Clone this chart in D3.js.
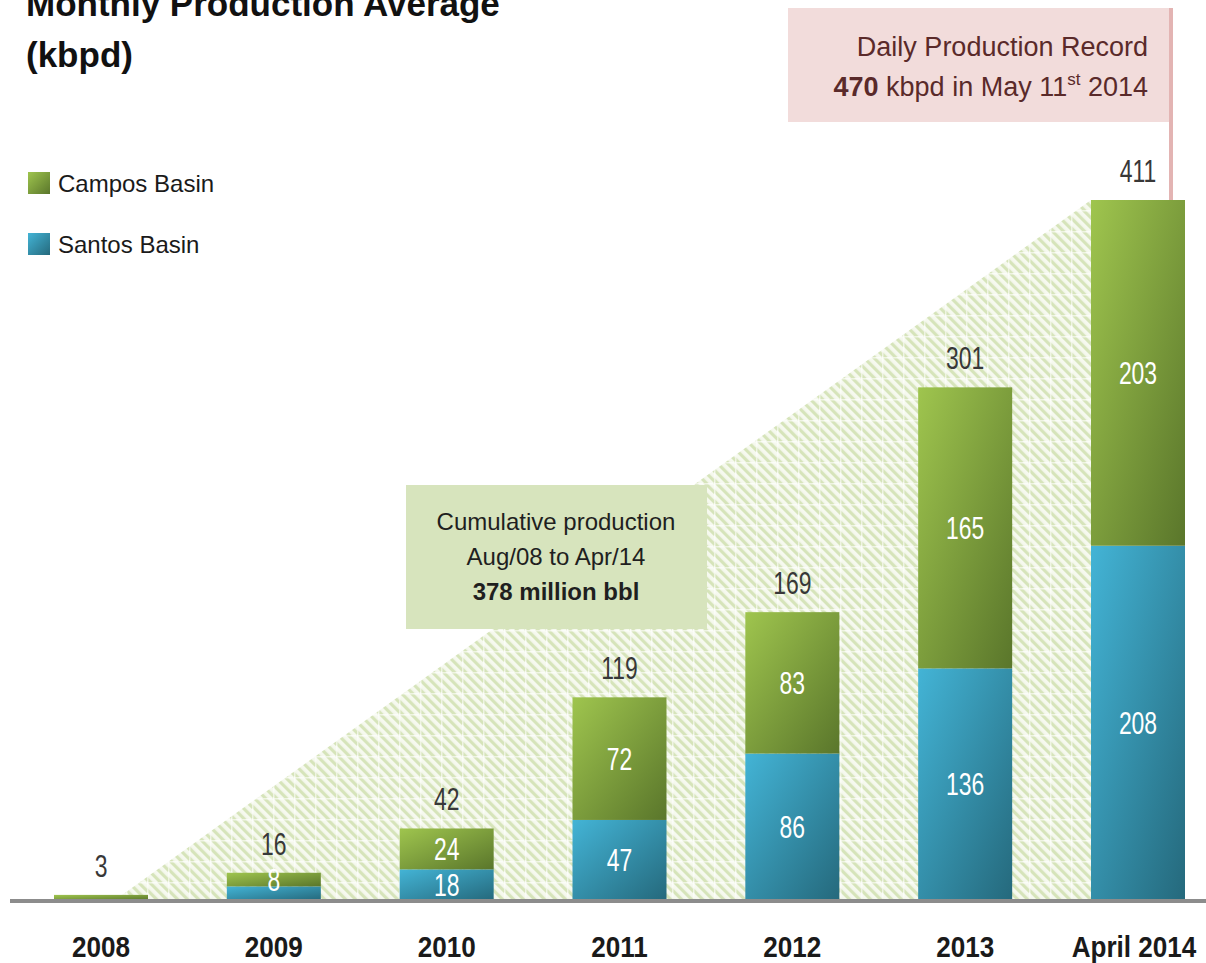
<!DOCTYPE html>
<html>
<head>
<title>Monthly Production Average</title>
<script src="https://d3js.org/d3.v7.min.js"></script>
<style type="text/css">
	body { margin: 0; background: white; }
	text { font-family: "Liberation Sans", Arial, sans-serif; }
	.title { font-weight: bold; font-size: 35px; fill: #111; }
	.legend { font-size: 24px; fill: #1a1a1a; }
	.year { font-weight: bold; font-size: 29px; fill: #1a1a1a; }
	.num { font-size: 31px; }
	.boxtext { font-size: 24px; fill: #1f1f1f; }
	.recordtext { font-size: 27px; fill: #5a2a2a; }
</style>
</head>
<body>
<svg id="chart" width="1206" height="963"></svg>
<script>
// data
var years = ["2008", "2009", "2010", "2011", "2012", "2013", "April 2014"];
var santos = [0, 8, 18, 47, 86, 136, 208];
var campos = [3, 8, 24, 72, 83, 165, 203];
var totals = [3, 16, 42, 119, 169, 301, 411];
// labels that are not printed inside the bar (too small)
var hiddenSantos = ["2008", "2009"];
var hiddenCampos = ["2008"];
var series = ["Campos Basin", "Santos Basin"];

var svg = d3.select("#chart");
var baseY = 900;

var x = d3.scalePoint().domain(years).range([101, 1138]);
var y = d3.scaleLinear().domain([0, 411]).range([baseY, 200]);
var barW = 94;

var defs = svg.append("defs");

function gradient(id, c0, c1) {
	var g = defs.append("linearGradient").attr("id", id)
		.attr("x1", 0).attr("y1", 0).attr("x2", 1).attr("y2", 1);
	g.append("stop").attr("offset", "0%").attr("stop-color", c0);
	g.append("stop").attr("offset", "100%").attr("stop-color", c1);
}
gradient("gCampos", "#9fc54e", "#5a762b");
gradient("gSantos", "#43b4d6", "#25697c");

// hatched background pattern
var pat = defs.append("pattern").attr("id", "hatch")
	.attr("patternUnits", "userSpaceOnUse")
	.attr("width", 7).attr("height", 7)
	.attr("patternTransform", "rotate(-45)");
pat.append("rect").attr("width", 7).attr("height", 7).attr("fill", "#f6f9ef");
pat.append("rect").attr("width", 3.2).attr("height", 7).attr("fill", "#d6e4ba");

var grid = defs.append("pattern").attr("id", "grid")
	.attr("patternUnits", "userSpaceOnUse")
	.attr("width", 21).attr("height", 21);
grid.append("rect").attr("width", 21).attr("height", 21).attr("fill", "url(#hatch)");
grid.append("rect").attr("width", 21).attr("height", 1.5).attr("fill", "#ffffff").attr("opacity", 0.6);
grid.append("rect").attr("width", 1.5).attr("height", 21).attr("fill", "#ffffff").attr("opacity", 0.6);

// title (top line is cut by the frame, as in the source)
svg.append("text").attr("class", "title").attr("x", 26).attr("y", 16).text("Monthly Production Average");
svg.append("text").attr("class", "title").attr("x", 26).attr("y", 67).text("(kbpd)");

// triangle behind bars
var last = years[years.length - 1];
var tri = [
	[x(years[0]) + 14, baseY],
	[x(last) - barW / 2, y(totals[totals.length - 1])],
	[x(last) - barW / 2, baseY]
];
svg.append("path")
	.attr("d", d3.line()(tri) + "Z")
	.attr("fill", "url(#grid)");

// daily record box + connector
svg.append("rect").attr("x", 788).attr("y", 8).attr("width", 383).attr("height", 114).attr("fill", "#f2dcdb");
svg.append("line")
	.attr("x1", 1171).attr("x2", 1171)
	.attr("y1", 8).attr("y2", y(totals[totals.length - 1]) + 2)
	.attr("stroke", "#e3b4b3").attr("stroke-width", 4);
svg.append("text").attr("class", "recordtext").attr("x", 1148).attr("y", 56)
	.attr("text-anchor", "end").text("Daily Production Record");
var rec = svg.append("text").attr("class", "recordtext").attr("x", 1148).attr("y", 96)
	.attr("text-anchor", "end");
rec.append("tspan").attr("font-weight", "bold").text("470");
rec.append("tspan").text(" kbpd in May 11");
rec.append("tspan").attr("font-size", "17px").attr("dy", -11).text("st");
rec.append("tspan").attr("dy", 11).text(" 2014");

// cumulative production box
svg.append("rect").attr("x", 406).attr("y", 485).attr("width", 301).attr("height", 144).attr("fill", "#d7e4bd");
var boxLines = ["Cumulative production", "Aug/08 to Apr/14", "378 million bbl"];
svg.selectAll(".boxtext").data(boxLines).enter().append("text")
	.attr("class", "boxtext")
	.attr("x", 556)
	.attr("y", function(d, i) { return 530 + i * 35; })
	.attr("text-anchor", "middle")
	.attr("font-weight", function(d, i) { return i == 2 ? "bold" : null; })
	.text(function(d) { return d; });

// legend
var leg = svg.selectAll(".leg").data(series).enter().append("g")
	.attr("transform", function(d, i) { return "translate(28," + (172 + i * 61) + ")"; });
leg.append("rect").attr("width", 22).attr("height", 22)
	.attr("fill", function(d, i) { return i == 0 ? "url(#gCampos)" : "url(#gSantos)"; });
leg.append("text").attr("class", "legend").attr("x", 30).attr("y", 20).text(function(d) { return d; });

// bars
var rows = years.map(function(d, i) {
	return { year: d, santos: santos[i], campos: campos[i], total: totals[i] };
});

var bars = svg.selectAll(".bar").data(rows).enter().append("g").attr("class", "bar");

bars.append("rect")
	.attr("x", function(d) { return x(d.year) - barW / 2; })
	.attr("y", function(d) { return y(d.santos); })
	.attr("width", barW)
	.attr("height", function(d) { return baseY - y(d.santos); })
	.attr("fill", "url(#gSantos)");

bars.append("rect")
	.attr("x", function(d) { return x(d.year) - barW / 2; })
	.attr("y", function(d) { return y(d.santos + d.campos); })
	.attr("width", barW)
	.attr("height", function(d) { return y(d.santos) - y(d.santos + d.campos); })
	.attr("fill", "url(#gCampos)");

// baseline
svg.append("line").attr("x1", 10).attr("x2", 1206).attr("y1", baseY + 1).attr("y2", baseY + 1)
	.attr("stroke", "#8c8c8c").attr("stroke-width", 4);

// condensed number label
function num(sel, px, py, txt, color) {
	sel.append("text").attr("class", "num")
		.attr("transform", "translate(" + px + "," + py + ") scale(0.74,1)")
		.attr("text-anchor", "middle")
		.attr("fill", color)
		.text(txt);
}

rows.forEach(function(d) {
	var cx = x(d.year);
	num(svg, cx, y(d.total) - 18, d.total, "#383838");
	if (hiddenSantos.indexOf(d.year) < 0) {
		num(svg, cx, (y(d.santos) + baseY) / 2 + 11, d.santos, "#ffffff");
	}
	if (hiddenCampos.indexOf(d.year) < 0) {
		num(svg, cx, (y(d.santos) + y(d.santos + d.campos)) / 2 + 11, d.campos, "#ffffff");
	}
});

// x labels, slightly condensed
svg.selectAll(".year").data(years).enter().append("text")
	.attr("class", "year")
	.attr("transform", function(d) { return "translate(" + (d == last ? x(d) - 4 : x(d)) + ",957) scale(0.9,1)"; })
	.attr("text-anchor", "middle")
	.text(function(d) { return d; });
</script>
</body>
</html>
